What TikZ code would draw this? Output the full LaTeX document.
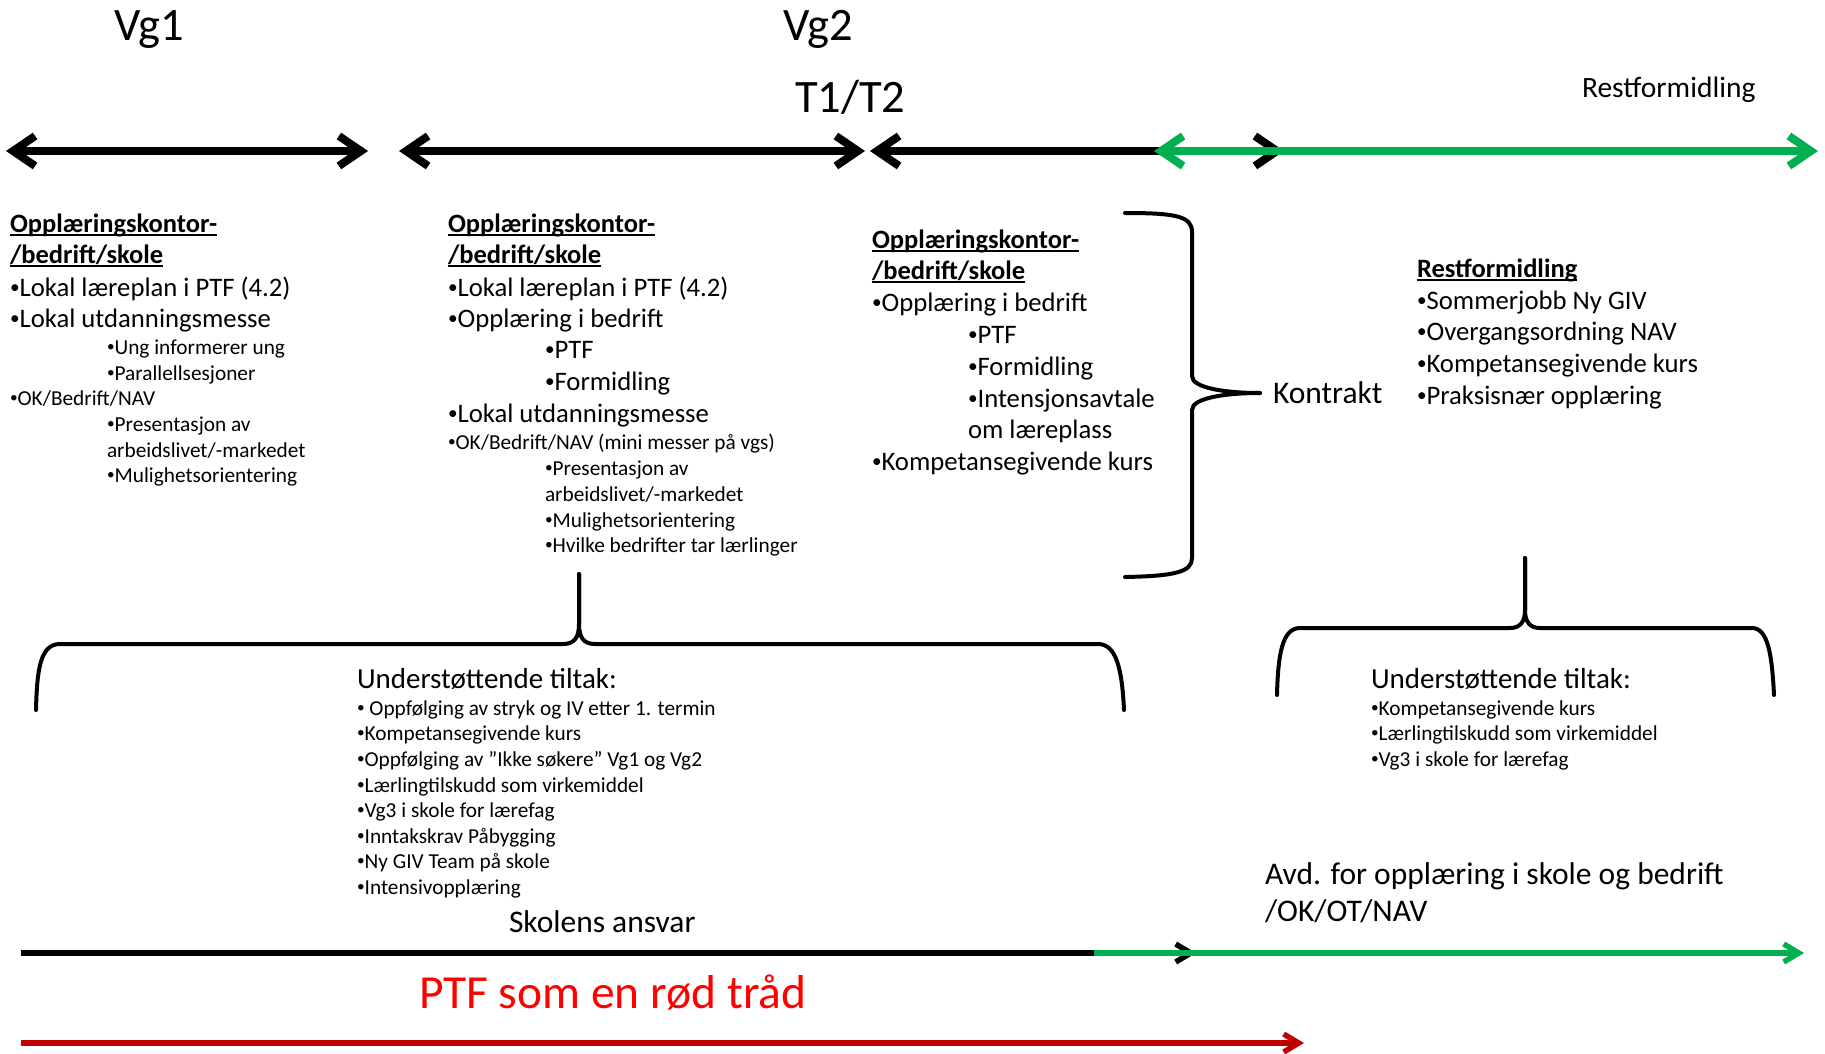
\documentclass[tikz,border=0pt]{standalone}
\usepackage{fontspec}
\usepackage{graphicx}
\setmainfont{Carlito}
\usetikzlibrary{arrows.meta}
\definecolor{ogreen}{HTML}{00B050}
\definecolor{dred}{HTML}{C00000}
\definecolor{bred}{HTML}{FF0000}
\newcommand\ulhead[1]{\setbox0\hbox{#1}\rlap{\rule[-3.5pt]{\wd0}{2pt}}\box0}
\newcommand\bul{\raisebox{0.1em}{\scalebox{0.72}{•}}}
\tikzset{
  bigtip/.tip={Straight Barb[length=22pt,width=30pt,line width=8pt]},
  smltip/.tip={Straight Barb[length=15pt,width=18pt,line width=5.5pt]},
  topln/.style={line width=8pt,arrows={bigtip-bigtip}},
  botln/.style={line width=5.5pt,arrows={-smltip}},
  brace/.style={line width=4pt,line join=round,line cap=round},
  txt/.style={anchor=base west,inner sep=0pt,outer sep=0pt},
  big/.style={txt,font=\fontsize{26.7}{31}\selectfont},
  hdr/.style={txt,font=\fontsize{26.5}{31}\selectfont\bfseries},
  sml/.style={txt,font=\fontsize{21.3}{25}\selectfont},
  lbl/.style={txt,font=\fontsize{31.5}{36}\selectfont},
  mid/.style={txt,font=\fontsize{29}{34}\selectfont},
  ttl/.style={txt,font=\fontsize{46.5}{50}\selectfont},
}
\begin{document}
\begin{tikzpicture}[x=1pt,y=-1pt]
\useasboundingbox[fill=white] (0,0) rectangle (1825,1054);

% top titles
\node[ttl] (vg1) at (114,41) {Vg1};
\node[ttl] (vg2) at (783,41) {Vg2};
\node[ttl] (t12) at (795,113) {T1/T2};
\node[txt,font=\fontsize{29.5}{34}\selectfont] (rest) at (1582,98) {Restformidling};

% top arrows
\coordinate (t1a) at (6,151);   \coordinate (t1b) at (368,151);
\coordinate (t2a) at (399,151); \coordinate (t2b) at (865,151);
\coordinate (t3a) at (870,151); \coordinate (t3b) at (1284,151);
\coordinate (t4a) at (1154,151); \coordinate (t4b) at (1818,151);
\draw[topln] (t1a) -- (t1b);
\draw[topln] (t2a) -- (t2b);
\draw[topln] (t3a) -- (t3b);
\draw[topln,ogreen] (t4a) -- (t4b);

% column 1
\node[hdr] (c1h1) at (10,232) {\ulhead{Opplæringskontor-}};
\node[hdr] (c1h2) at (10,263) {\ulhead{/bedrift/skole}};
\node[big] (c1a) at (10,296) {\bul Lokal læreplan i PTF (4.2)};
\node[big] (c1b) at (10,327) {\bul Lokal utdanningsmesse};
\node[sml] (c1c) at (107,354) {\bul Ung informerer ung};
\node[sml] (c1d) at (107,380) {\bul Parallellsesjoner};
\node[sml] (c1e) at (10,405) {\bul OK/Bedrift/NAV};
\node[sml] (c1f) at (107,431) {\bul Presentasjon av};
\node[sml] (c1g) at (107,457) {arbeidslivet/-markedet};
\node[sml] (c1h) at (107,482) {\bul Mulighetsorientering};

% column 2
\node[hdr] (c2h1) at (448,232) {\ulhead{Opplæringskontor-}};
\node[hdr] (c2h2) at (448,263) {\ulhead{/bedrift/skole}};
\node[big] (c2a) at (448,296) {\bul Lokal læreplan i PTF (4.2)};
\node[big] (c2b) at (448,327) {\bul Opplæring i bedrift};
\node[big] (c2c) at (545,358) {\bul PTF};
\node[big] (c2d) at (545,390) {\bul Formidling};
\node[big] (c2e) at (448,422) {\bul Lokal utdanningsmesse};
\node[sml] (c2f) at (448,449) {\bul OK/Bedrift/NAV (mini messer på vgs)};
\node[sml] (c2g) at (545,475) {\bul Presentasjon av};
\node[sml] (c2h) at (545,501) {arbeidslivet/-markedet};
\node[sml] (c2i) at (545,527) {\bul Mulighetsorientering};
\node[sml] (c2j) at (545,552) {\bul Hvilke bedrifter tar lærlinger};

% column 3
\node[hdr] (c3h1) at (872,248) {\ulhead{Opplæringskontor-}};
\node[hdr] (c3h2) at (872,279) {\ulhead{/bedrift/skole}};
\node[big] (c3a) at (872,311) {\bul Opplæring i bedrift};
\node[big] (c3b) at (968,343) {\bul PTF};
\node[big] (c3c) at (968,375) {\bul Formidling};
\node[big] (c3d) at (968,407) {\bul Intensjonsavtale};
\node[big] (c3e) at (968,438) {om læreplass};
\node[big] (c3f) at (872,470) {\bul Kompetansegivende kurs};

% contract brace
\draw[brace] (1125,213) .. controls (1175,213) and (1192,216) .. (1192,232) -- (1192,376) .. controls (1192,388) and (1225,393) .. (1260,393);
\draw[brace] (1260,393) .. controls (1225,393) and (1192,398) .. (1192,410) -- (1192,558) .. controls (1192,572) and (1175,576) .. (1125,577);
\node[lbl] (kontr) at (1273,403) {Kontrakt};

% column 4
\node[hdr] (c4h) at (1417,277) {\ulhead{Restformidling}};
\node[big] (c4a) at (1417,309) {\bul Sommerjobb Ny GIV};
\node[big] (c4b) at (1417,340) {\bul Overgangsordning NAV};
\node[big] (c4c) at (1417,372) {\bul Kompetansegivende kurs};
\node[big] (c4d) at (1417,404) {\bul Praksisnær opplæring};

% bottom-left brace
\draw[brace] (36,710) .. controls (37,670) and (40,644) .. (60,644) -- (563,644) .. controls (574,644) and (579,638) .. (579,624) -- (579,574);
\draw[brace] (579,574) -- (579,624) .. controls (579,638) and (584,644) .. (595,644) -- (1098,644) .. controls (1116,644) and (1122,668) .. (1124,710);

% bottom-right brace
\draw[brace] (1277,695) .. controls (1278,655) and (1282,628) .. (1300,628) -- (1510,628) .. controls (1520,628) and (1525,622) .. (1525,610) -- (1525,558);
\draw[brace] (1525,558) -- (1525,610) .. controls (1525,622) and (1530,628) .. (1540,628) -- (1752,628) .. controls (1768,628) and (1772,655) .. (1774,695);

% supporting measures left
\node[mid] (u1) at (357,688) {Understøttende tiltak:};
\node[sml] (u1a) at (357,715) {\bul\ Oppfølging av stryk og IV etter 1. termin};
\node[sml] (u1b) at (357,740) {\bul Kompetansegivende kurs};
\node[sml] (u1c) at (357,766) {\bul Oppfølging av ”Ikke søkere” Vg1 og Vg2};
\node[sml] (u1d) at (357,792) {\bul Lærlingtilskudd som virkemiddel};
\node[sml] (u1e) at (357,817) {\bul Vg3 i skole for lærefag};
\node[sml] (u1f) at (357,843) {\bul Inntakskrav Påbygging};
\node[sml] (u1g) at (357,868) {\bul Ny GIV Team på skole};
\node[sml] (u1h) at (357,894) {\bul Intensivopplæring};

% supporting measures right
\node[mid] (u2) at (1371,688) {Understøttende tiltak:};
\node[sml] (u2a) at (1371,715) {\bul Kompetansegivende kurs};
\node[sml] (u2b) at (1371,740) {\bul Lærlingtilskudd som virkemiddel};
\node[sml] (u2c) at (1371,766) {\bul Vg3 i skole for lærefag};

% bottom labels
\node[lbl] (skol) at (509,932) {Skolens ansvar};
\node[lbl] (avd1) at (1265,884) {Avd. for opplæring i skole og bedrift};
\node[lbl] (avd2) at (1265,921) {/OK/OT/NAV};
\node[txt,font=\fontsize{47.5}{52}\selectfont,text=bred] (ptf) at (419,1008) {PTF som en rød tråd};

% bottom arrows
\coordinate (b1a) at (21,953);   \coordinate (b1b) at (1196,953);
\coordinate (b2a) at (1094,953); \coordinate (b2b) at (1804,953);
\coordinate (r1a) at (21,1043);  \coordinate (r1b) at (1304,1043);
\draw[botln] (b1a) -- (b1b);
\draw[botln,ogreen] (b2a) -- (b2b);
\draw[botln,dred] (r1a) -- (r1b);
\end{tikzpicture}
\end{document}
